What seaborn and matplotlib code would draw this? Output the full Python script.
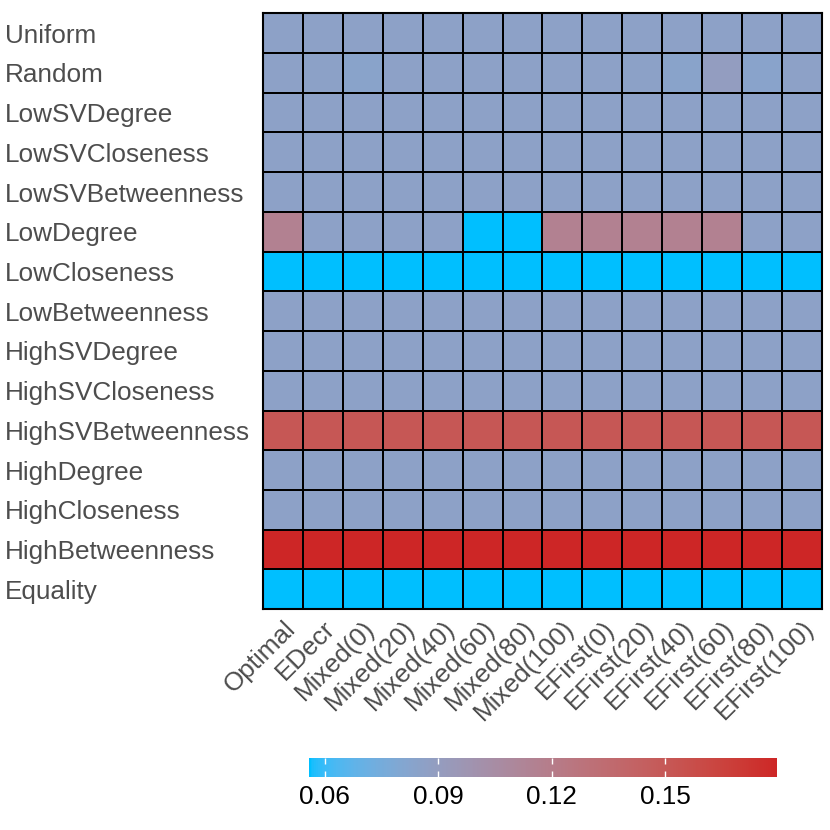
import numpy as np
import pandas as pd
import matplotlib
matplotlib.use('Agg')
import matplotlib.pyplot as plt
from matplotlib.colors import ListedColormap
import seaborn as sns

plt.rcParams['font.family'] = ['Liberation Sans', 'DejaVu Sans']

# Row / column labels
strategies = ['Uniform', 'Random', 'LowSVDegree', 'LowSVCloseness', 'LowSVBetweenness',
              'LowDegree', 'LowCloseness', 'LowBetweenness', 'HighSVDegree',
              'HighSVCloseness', 'HighSVBetweenness', 'HighDegree', 'HighCloseness',
              'HighBetweenness', 'Equality']
methods = ['Optimal', 'EDecr', 'Mixed(0)', 'Mixed(20)', 'Mixed(40)', 'Mixed(60)',
           'Mixed(80)', 'Mixed(100)', 'EFirst(0)', 'EFirst(20)', 'EFirst(40)',
           'EFirst(60)', 'EFirst(80)', 'EFirst(100)']

# Values per row
uniform = [0.086] * 14
random_ = [0.086, 0.0855, 0.084, 0.086, 0.086, 0.086, 0.086, 0.086, 0.086, 0.0855, 0.0843, 0.0895, 0.0838, 0.086]
low_sv_degree = [0.086] * 14
low_sv_closeness = [0.086] * 14
low_sv_betweenness = [0.086] * 14
low_degree = [0.116, 0.086, 0.086, 0.086, 0.086, 0.0558, 0.0558, 0.116, 0.116, 0.116, 0.116, 0.116, 0.086, 0.086]
low_closeness = [0.0558] * 14
low_betweenness = [0.086] * 14
high_sv_degree = [0.086] * 14
high_sv_closeness = [0.086] * 14
high_sv_betweenness = [0.151] * 14
high_degree = [0.086] * 14
high_closeness = [0.086] * 14
high_betweenness = [0.1796] * 14
equality = [0.0558] * 14

cbar_ticks = [0.06, 0.09, 0.12, 0.15]

df = pd.DataFrame([uniform, random_, low_sv_degree, low_sv_closeness, low_sv_betweenness,
                   low_degree, low_closeness, low_betweenness, high_sv_degree,
                   high_sv_closeness, high_sv_betweenness, high_degree, high_closeness,
                   high_betweenness, equality], index=strategies, columns=methods)


# gradient from deepskyblue to firebrick3, interpolated in CIELAB (like ggplot)
def srgb_to_lab(rgb):
    rgb = np.asarray(rgb, dtype=float)
    lin = np.where(rgb <= 0.04045, rgb / 12.92, ((rgb + 0.055) / 1.055) ** 2.4)
    M = np.array([[0.4124, 0.3576, 0.1805], [0.2126, 0.7152, 0.0722], [0.0193, 0.1192, 0.9505]])
    xyz = M @ lin / np.array([0.95047, 1.0, 1.08883])
    f = np.where(xyz > 0.008856, np.cbrt(xyz), 7.787 * xyz + 16 / 116)
    return np.array([116 * f[1] - 16, 500 * (f[0] - f[1]), 200 * (f[1] - f[2])])


def lab_to_srgb(lab):
    L, a, b = lab
    fy = (L + 16) / 116
    fx = fy + a / 500
    fz = fy - b / 200
    f = np.array([fx, fy, fz])
    xyz = np.where(f ** 3 > 0.008856, f ** 3, (f - 16 / 116) / 7.787) * np.array([0.95047, 1.0, 1.08883])
    Minv = np.array([[3.2406, -1.5372, -0.4986], [-0.9689, 1.8758, 0.0415], [0.0557, -0.2040, 1.0570]])
    lin = Minv @ xyz
    rgb = np.where(lin <= 0.0031308, 12.92 * lin, 1.055 * np.clip(lin, 0, None) ** (1 / 2.4) - 0.055)
    return np.clip(rgb, 0, 1)


low = srgb_to_lab([0 / 255, 191 / 255, 255 / 255])
high = srgb_to_lab([205 / 255, 38 / 255, 38 / 255])
cmap = ListedColormap([lab_to_srgb(low + t * (high - low)) for t in np.linspace(0, 1, 256)])

fig = plt.figure(figsize=(8.3, 8.3), dpi=100)
ax = fig.add_axes([0.317, 0.266, 0.673, 0.718])
cax = fig.add_axes([0.372, 0.064, 0.564, 0.023])

sns.heatmap(df, ax=ax, cmap=cmap, vmin=df.values.min(), vmax=df.values.max(),
            linewidths=1.2, linecolor='black', cbar_ax=cax,
            cbar_kws={'orientation': 'horizontal', 'ticks': cbar_ticks, 'format': '%.2f'})

for s in ax.spines.values():
    s.set_visible(True)
    s.set_color('black')
    s.set_linewidth(1.5)

ax.set_xlabel('')
ax.set_ylabel('')
ax.tick_params(axis='both', length=0, labelsize=18.8, labelcolor='#4D4D4D')
ax.tick_params(axis='y', pad=186)
ax.tick_params(axis='x', pad=5)
for lab in ax.get_yticklabels():
    lab.set_ha('left')
    lab.set_va('center_baseline')
    lab.set_rotation(0)
for lab in ax.get_xticklabels():
    lab.set_rotation(45)
    lab.set_ha('right')
    lab.set_rotation_mode('anchor')

cax.xaxis.set_ticks_position('both')
cax.tick_params(axis='x', which='both', direction='in', length=4, width=1,
                color='white', labelcolor='black', labelsize=18.8, labeltop=False, pad=6)
for s in cax.spines.values():
    s.set_visible(False)

fig.savefig('out.png', dpi=100)
